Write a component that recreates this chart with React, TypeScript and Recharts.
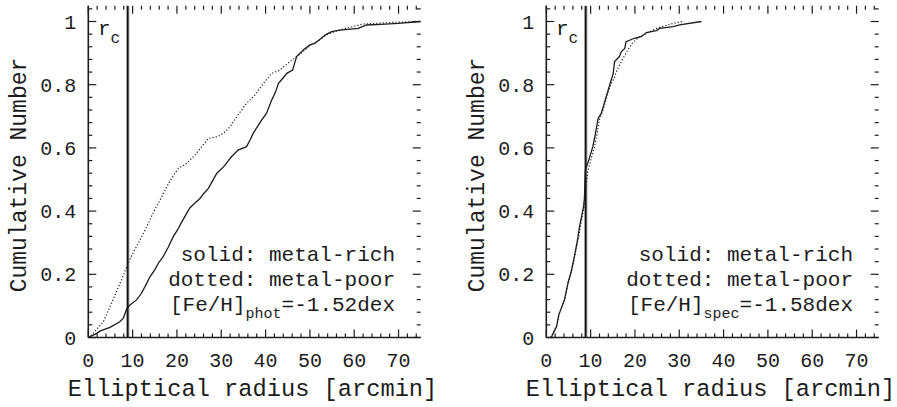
import React from 'react';
import { LineChart, Line, XAxis, YAxis, ReferenceLine } from 'recharts';

// Cumulative radial distributions of metal-rich vs metal-poor stars.

const RADIUS_DOMAIN: [number, number] = [0, 75];
const FRACTION_DOMAIN: [number, number] = [0, 1.05];
const CORE_RADIUS = 8.9;

const xTicks = Array.from({ length: 38 }, (_, i) => i * 2);
const yTicks = Array.from({ length: 27 }, (_, i) => Math.round(i * 4) / 100);

// Photometric sample
const photRichR = [0, 0.4, 1.9, 2.6, 4.9, 7.1, 7.9, 8.7, 9.4, 10.9, 12.0, 13.2, 13.9, 15.0, 15.8, 16.9, 18.0, 19.2, 20.2, 21.1, 22.9, 24.0, 25.2, 26.0, 27.1, 28.0, 29.0, 30.5, 31.4, 32.3, 33.8, 35.7, 36.5, 37.2, 38.2, 39.1, 40.2, 41.4, 42.2, 42.9, 44.0, 44.8, 46.1, 47.0, 48.5, 50.0, 51.1, 52.3, 53.4, 54.9, 56.8, 60.9, 62.8, 66.0, 69.9, 75.0];
const photRichF = [0, 0.003, 0.013, 0.02, 0.032, 0.05, 0.061, 0.092, 0.103, 0.119, 0.14, 0.172, 0.192, 0.214, 0.235, 0.256, 0.285, 0.32, 0.342, 0.366, 0.41, 0.425, 0.44, 0.455, 0.472, 0.495, 0.52, 0.54, 0.556, 0.572, 0.593, 0.604, 0.625, 0.646, 0.668, 0.688, 0.709, 0.752, 0.775, 0.804, 0.822, 0.836, 0.846, 0.889, 0.91, 0.926, 0.931, 0.944, 0.957, 0.968, 0.973, 0.978, 0.989, 0.991, 0.994, 1.0];
const photPoorR = [0, 0.4, 3.4, 5.3, 6.8, 8.0, 9.0, 10.0, 11.7, 13.0, 13.9, 15.0, 16.2, 17.7, 18.8, 20.3, 22.2, 24.1, 25.6, 27.1, 29.0, 30.5, 32.0, 33.5, 35.7, 37.6, 39.5, 41.4, 43.2, 45.5, 47.0, 48.5, 50.0, 52.0, 54.0, 56.0, 58.0, 60.0, 62.0, 66.0, 70.0, 75.0];
const photPoorF = [0, 0.002, 0.05, 0.11, 0.16, 0.2, 0.235, 0.265, 0.31, 0.345, 0.372, 0.405, 0.435, 0.477, 0.504, 0.535, 0.551, 0.578, 0.604, 0.63, 0.635, 0.646, 0.667, 0.699, 0.741, 0.767, 0.804, 0.836, 0.846, 0.873, 0.889, 0.905, 0.924, 0.94, 0.96, 0.97, 0.978, 0.985, 0.992, 0.995, 0.998, 1.0];

// Spectroscopic sample
const specRichR = [1.1, 2.3, 2.8, 4.1, 4.9, 5.6, 6.4, 7.1, 7.5, 8.4, 8.6, 8.8, 9.6, 10.5, 11.1, 11.7, 12.4, 13.3, 14.3, 15.1, 15.4, 16.5, 16.9, 17.7, 18.0, 19.9, 21.4, 22.6, 24.8, 25.6, 28.6, 30.1, 35.0];
const specRichF = [0, 0.034, 0.071, 0.119, 0.172, 0.208, 0.261, 0.314, 0.351, 0.414, 0.44, 0.53, 0.562, 0.604, 0.646, 0.694, 0.709, 0.752, 0.799, 0.836, 0.873, 0.889, 0.904, 0.915, 0.936, 0.947, 0.952, 0.965, 0.971, 0.978, 0.984, 0.989, 1.0];
const specPoorR = [1.0, 2.4, 3.0, 4.2, 5.0, 5.8, 6.6, 7.3, 7.8, 8.6, 8.9, 9.3, 10.0, 10.8, 11.4, 12.0, 12.8, 13.6, 14.5, 15.3, 15.8, 16.9, 18.4, 19.5, 21.0, 23.0, 24.8, 28.6, 30.8];
const specPoorF = [0, 0.04, 0.08, 0.125, 0.18, 0.215, 0.27, 0.32, 0.36, 0.42, 0.47, 0.52, 0.56, 0.6, 0.64, 0.69, 0.72, 0.76, 0.8, 0.82, 0.841, 0.873, 0.91, 0.933, 0.952, 0.965, 0.978, 0.994, 1.0];

const zip = (r: number[], f: number[]) => r.map((x, i) => ({ x, y: f[i] }));

const FONT = '"Liberation Mono", "Courier New", monospace';
const INK = '#1c1c1c';

const CHART_W = 438;
const CHART_H = 407;
const PLOT_LEFT = 88.3;
const PLOT_TOP = 5.7;
const PLOT_RIGHT = 420.7;
const PLOT_BOTTOM = 337.5;

// tick lengths in pixels, converted to data units for the frame marks
const PX_PER_X = (PLOT_RIGHT - PLOT_LEFT) / (RADIUS_DOMAIN[1] - RADIUS_DOMAIN[0]);
const PX_PER_Y = (PLOT_BOTTOM - PLOT_TOP) / (FRACTION_DOMAIN[1] - FRACTION_DOMAIN[0]);
const MAJOR_LEN = 8;
const MINOR_LEN = 4;

const isMajor = (v: number, step: number) => Math.abs(v / step - Math.round(v / step)) < 1e-6;
const fmtY = (v: number) => (isMajor(v, 1) ? String(Math.round(v)) : v.toFixed(1));

const renderBottomLabel = (props: any) => {
  const v = props.payload.value as number;
  if (!isMajor(v, 10)) return <g key={`b-${v}`} />;
  return (
    <text key={`b-${v}`} x={props.x} y={Number(props.y) + 29.5} textAnchor="middle" fontSize={20} fontFamily={FONT} fill={INK} stroke="none">
      {v}
    </text>
  );
};

const renderLeftLabel = (props: any) => {
  const v = props.payload.value as number;
  if (!isMajor(v, 0.2)) return <g key={`l-${v}`} />;
  return (
    <text key={`l-${v}`} x={Number(props.x) - 12} y={Number(props.y) + 7} textAnchor="end" fontSize={20} fontFamily={FONT} fill={INK} stroke="none">
      {fmtY(v)}
    </text>
  );
};

// Inward tick marks on all four sides of the frame, drawn in data space.
function frameTicks() {
  const [x0, x1] = RADIUS_DOMAIN;
  const [y0, y1] = FRACTION_DOMAIN;
  const out: React.ReactNode[] = [];
  const common = { xAxisId: 'b', yAxisId: 'l', stroke: INK, strokeWidth: 1.2, ifOverflow: 'visible' as const };
  xTicks.forEach((v) => {
    const len = (isMajor(v, 10) ? MAJOR_LEN : MINOR_LEN) / PX_PER_Y;
    out.push(<ReferenceLine key={`xb${v}`} {...common} segment={[{ x: v, y: y0 }, { x: v, y: y0 + len }]} />);
    out.push(<ReferenceLine key={`xt${v}`} {...common} segment={[{ x: v, y: y1 }, { x: v, y: y1 - len }]} />);
  });
  yTicks.forEach((v) => {
    const len = (isMajor(v, 0.2) ? MAJOR_LEN : MINOR_LEN) / PX_PER_X;
    out.push(<ReferenceLine key={`yl${v}`} {...common} segment={[{ x: x0, y: v }, { x: x0 + len, y: v }]} />);
    out.push(<ReferenceLine key={`yr${v}`} {...common} segment={[{ x: x1, y: v }, { x: x1 - len, y: v }]} />);
  });
  return out;
}

type PanelProps = {
  left: number;
  rich: { x: number; y: number }[];
  poor: { x: number; y: number }[];
  sub: string;
  feh: string;
};

function Panel({ left, rich, poor, sub, feh }: PanelProps) {
  const axisLine = { stroke: INK, strokeWidth: 1.6 };
  const cx = 252.5;
  return (
    <div style={{ position: 'absolute', left, top: 0, width: CHART_W, height: CHART_H }}>
      <LineChart
        width={CHART_W}
        height={CHART_H}
        margin={{ top: PLOT_TOP, right: CHART_W - PLOT_RIGHT, bottom: 0, left: 0 }}
      >
        <XAxis
          xAxisId="b"
          type="number"
          dataKey="x"
          domain={RADIUS_DOMAIN}
          allowDataOverflow
          ticks={xTicks}
          interval={0}
          height={CHART_H - PLOT_BOTTOM}
          tickSize={0}
          tickMargin={0}
          tickLine={false}
          axisLine={axisLine}
          tick={renderBottomLabel}
        />
        <XAxis
          xAxisId="t"
          orientation="top"
          type="number"
          dataKey="x"
          domain={RADIUS_DOMAIN}
          allowDataOverflow
          height={0}
          tick={false}
          tickLine={false}
          axisLine={axisLine}
        />
        <YAxis
          yAxisId="l"
          type="number"
          domain={FRACTION_DOMAIN}
          allowDataOverflow
          ticks={yTicks}
          interval={0}
          width={PLOT_LEFT}
          tickSize={0}
          tickMargin={0}
          tickLine={false}
          axisLine={axisLine}
          tick={renderLeftLabel}
        />
        <YAxis
          yAxisId="r"
          orientation="right"
          type="number"
          domain={FRACTION_DOMAIN}
          allowDataOverflow
          width={0}
          tick={false}
          tickLine={false}
          axisLine={axisLine}
        />
        {frameTicks()}
        <ReferenceLine xAxisId="b" yAxisId="l" x={CORE_RADIUS} stroke={INK} strokeWidth={3.2} strokeDasharray="1 1" />
        <ReferenceLine xAxisId="b" yAxisId="l" x={CORE_RADIUS} stroke="#000" strokeWidth={1.2} />
        <Line
          xAxisId="b"
          yAxisId="l"
          data={poor}
          dataKey="y"
          type="linear"
          dot={false}
          stroke={INK}
          strokeWidth={1.2}
          strokeDasharray="1.2 2"
          isAnimationActive={false}
        />
        <Line
          xAxisId="b"
          yAxisId="l"
          data={rich}
          dataKey="y"
          type="linear"
          dot={false}
          stroke={INK}
          strokeWidth={1.3}
          isAnimationActive={false}
        />
      </LineChart>
      <svg
        width={CHART_W}
        height={CHART_H}
        style={{ position: 'absolute', left: 0, top: 0, pointerEvents: 'none', overflow: 'visible' }}
        fontFamily={FONT}
        fill={INK}
      >
        <text transform="translate(26,175) rotate(-90)" textAnchor="middle" fontSize={23}>
          Cumulative Number
        </text>
        <text x={cx} y={396} textAnchor="middle" fontSize={23.7}>
          Elliptical radius [arcmin]
        </text>
        <text x={98} y={35} fontSize={21}>
          r<tspan fontSize={16} dy={8}>c</tspan>
        </text>
        <text x={395} y={261} textAnchor="end" fontSize={21}>
          solid: metal-rich
        </text>
        <text x={395} y={286} textAnchor="end" fontSize={21}>
          dotted: metal-poor
        </text>
        <text x={395} y={311} textAnchor="end" fontSize={21}>
          [Fe/H]<tspan fontSize={15} dy={7}>{sub}</tspan>
          <tspan dy={-7}>{feh}</tspan>
        </text>
      </svg>
    </div>
  );
}

export default function App() {
  return (
    <div style={{ position: 'absolute', left: 0, top: 0, width: 897, height: 407, background: '#fff', overflow: 'hidden' }}>
      <Panel left={0} rich={zip(photRichR, photRichF)} poor={zip(photPoorR, photPoorF)} sub="phot" feh="=-1.52dex" />
      <Panel left={458.4} rich={zip(specRichR, specRichF)} poor={zip(specPoorR, specPoorF)} sub="spec" feh="=-1.58dex" />
    </div>
  );
}
